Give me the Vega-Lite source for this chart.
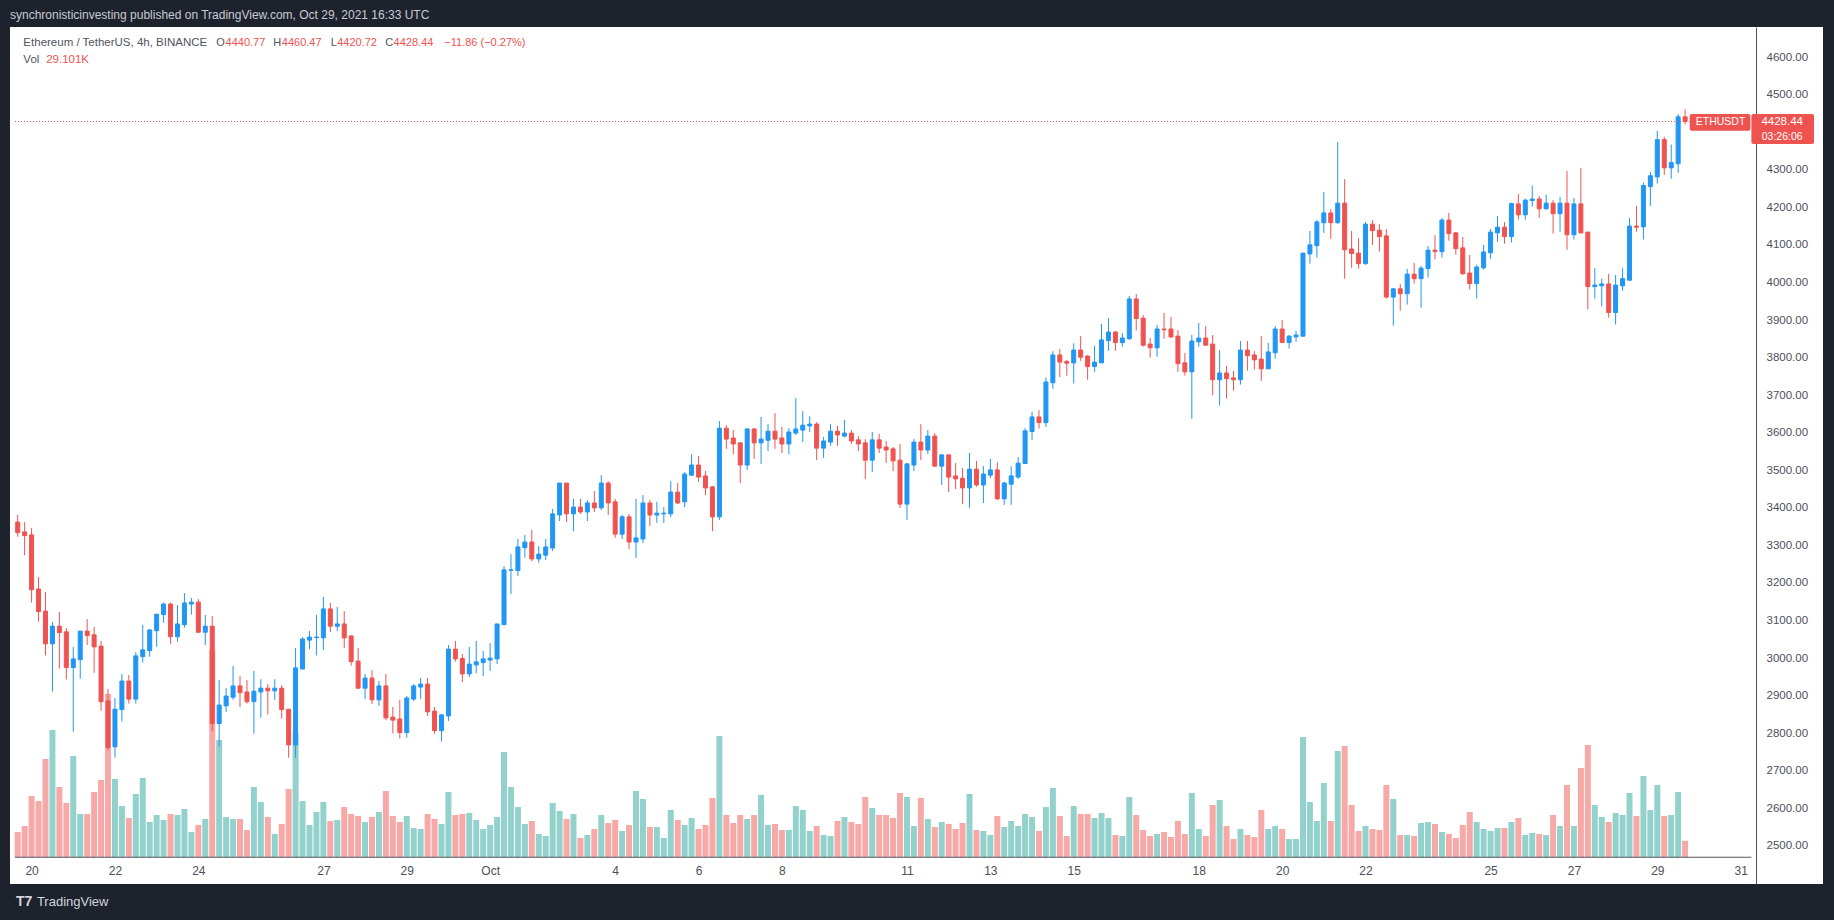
{
  "$schema": "https://vega.github.io/schema/vega-lite/v6.json",
  "description": "ETHUSDT 4h candles with volume, TradingView style.",
  "width": 1813,
  "height": 857,
  "autosize": {"type": "none"},
  "padding": {"left": 10, "top": 27, "right": 11, "bottom": 36},
  "background": "#1e222d",
  "config": {
    "view": {"fill": "#ffffff", "stroke": null},
    "font": "Liberation Sans"
  },
  "title": {
    "text": "synchronisticinvesting published on TradingView.com, Oct 29, 2021 16:33 UTC",
    "anchor": "start",
    "frame": "group",
    "color": "#c8cbd3",
    "font": "Liberation Sans",
    "fontSize": 12,
    "fontWeight": "normal",
    "baseline": "alphabetic",
    "offset": 8,
    "dy": 12
  },
  "data": {
    "values": [
      {"t":"2021-09-19T16:00Z","o":3362,"h":3381,"l":3323,"c":3334,"v":45.0},
      {"t":"2021-09-19T20:00Z","o":3336,"h":3362,"l":3274,"c":3326,"v":55.8},
      {"t":"2021-09-20T00:00Z","o":3328,"h":3346,"l":3148,"c":3182,"v":109.8},
      {"t":"2021-09-20T04:00Z","o":3184,"h":3216,"l":3097,"c":3124,"v":100.8},
      {"t":"2021-09-20T08:00Z","o":3125,"h":3176,"l":3007,"c":3038,"v":176.4},
      {"t":"2021-09-20T12:00Z","o":3038,"h":3096,"l":2911,"c":3085,"v":228.6},
      {"t":"2021-09-20T16:00Z","o":3085,"h":3123,"l":2972,"c":3068,"v":126.0},
      {"t":"2021-09-20T20:00Z","o":3070,"h":3080,"l":2943,"c":2975,"v":97.2},
      {"t":"2021-09-21T00:00Z","o":2975,"h":3030,"l":2804,"c":2998,"v":181.8},
      {"t":"2021-09-21T04:00Z","o":2996,"h":3072,"l":2945,"c":3072,"v":77.4},
      {"t":"2021-09-21T08:00Z","o":3072,"h":3104,"l":3035,"c":3060,"v":77.4},
      {"t":"2021-09-21T12:00Z","o":3062,"h":3083,"l":2961,"c":3030,"v":117.0},
      {"t":"2021-09-21T16:00Z","o":3032,"h":3046,"l":2860,"c":2884,"v":138.6},
      {"t":"2021-09-21T20:00Z","o":2886,"h":2918,"l":2755,"c":2762,"v":293.4},
      {"t":"2021-09-22T00:00Z","o":2764,"h":2894,"l":2735,"c":2864,"v":140.4},
      {"t":"2021-09-22T04:00Z","o":2863,"h":2958,"l":2831,"c":2939,"v":91.8},
      {"t":"2021-09-22T08:00Z","o":2939,"h":2955,"l":2879,"c":2891,"v":70.2},
      {"t":"2021-09-22T12:00Z","o":2891,"h":3016,"l":2879,"c":3006,"v":113.4},
      {"t":"2021-09-22T16:00Z","o":3004,"h":3088,"l":2988,"c":3022,"v":142.2},
      {"t":"2021-09-22T20:00Z","o":3020,"h":3077,"l":3004,"c":3075,"v":63.0},
      {"t":"2021-09-23T00:00Z","o":3073,"h":3117,"l":3030,"c":3117,"v":75.6},
      {"t":"2021-09-23T04:00Z","o":3116,"h":3148,"l":3094,"c":3144,"v":66.6},
      {"t":"2021-09-23T08:00Z","o":3144,"h":3148,"l":3038,"c":3057,"v":77.4},
      {"t":"2021-09-23T12:00Z","o":3057,"h":3141,"l":3044,"c":3091,"v":75.6},
      {"t":"2021-09-23T16:00Z","o":3089,"h":3173,"l":3081,"c":3147,"v":86.4},
      {"t":"2021-09-23T20:00Z","o":3144,"h":3160,"l":3116,"c":3149,"v":45.0},
      {"t":"2021-09-24T00:00Z","o":3149,"h":3157,"l":3067,"c":3069,"v":57.6},
      {"t":"2021-09-24T04:00Z","o":3069,"h":3115,"l":3035,"c":3085,"v":68.4},
      {"t":"2021-09-24T08:00Z","o":3085,"h":3112,"l":2805,"c":2826,"v":372.6},
      {"t":"2021-09-24T12:00Z","o":2826,"h":2942,"l":2764,"c":2875,"v":210.6},
      {"t":"2021-09-24T16:00Z","o":2873,"h":2920,"l":2857,"c":2899,"v":72.0},
      {"t":"2021-09-24T20:00Z","o":2896,"h":2979,"l":2889,"c":2926,"v":68.4},
      {"t":"2021-09-25T00:00Z","o":2926,"h":2952,"l":2870,"c":2908,"v":68.4},
      {"t":"2021-09-25T04:00Z","o":2910,"h":2942,"l":2879,"c":2884,"v":48.6},
      {"t":"2021-09-25T08:00Z","o":2884,"h":2966,"l":2799,"c":2912,"v":126.0},
      {"t":"2021-09-25T12:00Z","o":2910,"h":2944,"l":2841,"c":2920,"v":99.0},
      {"t":"2021-09-25T16:00Z","o":2920,"h":2931,"l":2850,"c":2913,"v":72.0},
      {"t":"2021-09-25T20:00Z","o":2913,"h":2944,"l":2889,"c":2920,"v":41.4},
      {"t":"2021-09-26T00:00Z","o":2920,"h":2928,"l":2839,"c":2863,"v":59.4},
      {"t":"2021-09-26T04:00Z","o":2864,"h":2864,"l":2735,"c":2769,"v":122.4},
      {"t":"2021-09-26T08:00Z","o":2769,"h":3027,"l":2735,"c":2974,"v":223.2},
      {"t":"2021-09-26T12:00Z","o":2971,"h":3056,"l":2971,"c":3051,"v":100.8},
      {"t":"2021-09-26T16:00Z","o":3048,"h":3072,"l":3024,"c":3056,"v":57.6},
      {"t":"2021-09-26T20:00Z","o":3055,"h":3115,"l":3007,"c":3056,"v":81.0},
      {"t":"2021-09-27T00:00Z","o":3054,"h":3163,"l":3022,"c":3131,"v":99.0},
      {"t":"2021-09-27T04:00Z","o":3131,"h":3147,"l":3069,"c":3085,"v":64.8},
      {"t":"2021-09-27T08:00Z","o":3085,"h":3136,"l":3072,"c":3091,"v":66.6},
      {"t":"2021-09-27T12:00Z","o":3091,"h":3125,"l":3027,"c":3054,"v":90.0},
      {"t":"2021-09-27T16:00Z","o":3059,"h":3061,"l":2980,"c":2991,"v":77.4},
      {"t":"2021-09-27T20:00Z","o":2992,"h":3027,"l":2918,"c":2920,"v":73.8},
      {"t":"2021-09-28T00:00Z","o":2920,"h":2958,"l":2891,"c":2947,"v":63.0},
      {"t":"2021-09-28T04:00Z","o":2947,"h":2968,"l":2878,"c":2889,"v":72.0},
      {"t":"2021-09-28T08:00Z","o":2889,"h":2939,"l":2873,"c":2926,"v":81.0},
      {"t":"2021-09-28T12:00Z","o":2926,"h":2958,"l":2835,"c":2841,"v":118.8},
      {"t":"2021-09-28T16:00Z","o":2843,"h":2870,"l":2799,"c":2835,"v":73.8},
      {"t":"2021-09-28T20:00Z","o":2838,"h":2889,"l":2786,"c":2802,"v":63.0},
      {"t":"2021-09-29T00:00Z","o":2802,"h":2899,"l":2788,"c":2894,"v":73.8},
      {"t":"2021-09-29T04:00Z","o":2891,"h":2931,"l":2886,"c":2926,"v":52.2},
      {"t":"2021-09-29T08:00Z","o":2923,"h":2947,"l":2891,"c":2931,"v":50.4},
      {"t":"2021-09-29T12:00Z","o":2931,"h":2947,"l":2846,"c":2857,"v":77.4},
      {"t":"2021-09-29T16:00Z","o":2859,"h":2870,"l":2799,"c":2807,"v":68.4},
      {"t":"2021-09-29T20:00Z","o":2807,"h":2851,"l":2778,"c":2849,"v":59.4},
      {"t":"2021-09-30T00:00Z","o":2846,"h":3035,"l":2833,"c":3024,"v":117.0},
      {"t":"2021-09-30T04:00Z","o":3024,"h":3046,"l":2991,"c":2998,"v":75.6},
      {"t":"2021-09-30T08:00Z","o":2999,"h":3011,"l":2936,"c":2958,"v":77.4},
      {"t":"2021-09-30T12:00Z","o":2958,"h":3030,"l":2950,"c":2984,"v":79.2},
      {"t":"2021-09-30T16:00Z","o":2982,"h":3046,"l":2960,"c":2990,"v":66.6},
      {"t":"2021-09-30T20:00Z","o":2988,"h":3019,"l":2952,"c":2998,"v":50.4},
      {"t":"2021-10-01T00:00Z","o":2995,"h":3040,"l":2966,"c":3000,"v":57.6},
      {"t":"2021-10-01T04:00Z","o":2998,"h":3091,"l":2984,"c":3091,"v":72.0},
      {"t":"2021-10-01T08:00Z","o":3089,"h":3245,"l":3089,"c":3235,"v":189.0},
      {"t":"2021-10-01T12:00Z","o":3234,"h":3277,"l":3171,"c":3235,"v":126.0},
      {"t":"2021-10-01T16:00Z","o":3233,"h":3317,"l":3219,"c":3296,"v":90.0},
      {"t":"2021-10-01T20:00Z","o":3294,"h":3328,"l":3267,"c":3309,"v":59.4},
      {"t":"2021-10-02T00:00Z","o":3309,"h":3341,"l":3258,"c":3264,"v":64.8},
      {"t":"2021-10-02T04:00Z","o":3264,"h":3298,"l":3254,"c":3277,"v":41.4},
      {"t":"2021-10-02T08:00Z","o":3274,"h":3317,"l":3261,"c":3296,"v":37.8},
      {"t":"2021-10-02T12:00Z","o":3293,"h":3397,"l":3285,"c":3384,"v":97.2},
      {"t":"2021-10-02T16:00Z","o":3381,"h":3466,"l":3365,"c":3466,"v":82.8},
      {"t":"2021-10-02T20:00Z","o":3466,"h":3466,"l":3362,"c":3384,"v":68.4},
      {"t":"2021-10-03T00:00Z","o":3384,"h":3424,"l":3338,"c":3402,"v":77.4},
      {"t":"2021-10-03T04:00Z","o":3402,"h":3424,"l":3384,"c":3389,"v":34.2},
      {"t":"2021-10-03T08:00Z","o":3389,"h":3421,"l":3365,"c":3413,"v":39.6},
      {"t":"2021-10-03T12:00Z","o":3413,"h":3445,"l":3389,"c":3400,"v":50.4},
      {"t":"2021-10-03T16:00Z","o":3400,"h":3487,"l":3394,"c":3466,"v":75.6},
      {"t":"2021-10-03T20:00Z","o":3466,"h":3471,"l":3381,"c":3413,"v":61.2},
      {"t":"2021-10-04T00:00Z","o":3416,"h":3424,"l":3320,"c":3330,"v":66.6},
      {"t":"2021-10-04T04:00Z","o":3330,"h":3381,"l":3317,"c":3376,"v":46.8},
      {"t":"2021-10-04T08:00Z","o":3376,"h":3384,"l":3290,"c":3309,"v":57.6},
      {"t":"2021-10-04T12:00Z","o":3309,"h":3424,"l":3267,"c":3320,"v":118.8},
      {"t":"2021-10-04T16:00Z","o":3317,"h":3434,"l":3306,"c":3413,"v":104.4},
      {"t":"2021-10-04T20:00Z","o":3413,"h":3421,"l":3352,"c":3381,"v":54.0},
      {"t":"2021-10-05T00:00Z","o":3381,"h":3416,"l":3360,"c":3386,"v":54.0},
      {"t":"2021-10-05T04:00Z","o":3384,"h":3402,"l":3360,"c":3386,"v":34.2},
      {"t":"2021-10-05T08:00Z","o":3384,"h":3471,"l":3376,"c":3442,"v":84.6},
      {"t":"2021-10-05T12:00Z","o":3442,"h":3466,"l":3410,"c":3413,"v":66.6},
      {"t":"2021-10-05T16:00Z","o":3416,"h":3495,"l":3402,"c":3490,"v":57.6},
      {"t":"2021-10-05T20:00Z","o":3487,"h":3543,"l":3485,"c":3514,"v":70.2},
      {"t":"2021-10-06T00:00Z","o":3514,"h":3538,"l":3469,"c":3482,"v":50.4},
      {"t":"2021-10-06T04:00Z","o":3485,"h":3498,"l":3434,"c":3453,"v":57.6},
      {"t":"2021-10-06T08:00Z","o":3456,"h":3458,"l":3338,"c":3376,"v":106.2},
      {"t":"2021-10-06T12:00Z","o":3376,"h":3631,"l":3368,"c":3612,"v":217.8},
      {"t":"2021-10-06T16:00Z","o":3612,"h":3620,"l":3557,"c":3583,"v":75.6},
      {"t":"2021-10-06T20:00Z","o":3586,"h":3607,"l":3543,"c":3570,"v":61.2},
      {"t":"2021-10-07T00:00Z","o":3573,"h":3573,"l":3466,"c":3514,"v":75.6},
      {"t":"2021-10-07T04:00Z","o":3514,"h":3612,"l":3501,"c":3610,"v":68.4},
      {"t":"2021-10-07T08:00Z","o":3610,"h":3612,"l":3530,"c":3573,"v":75.6},
      {"t":"2021-10-07T12:00Z","o":3573,"h":3642,"l":3517,"c":3583,"v":111.6},
      {"t":"2021-10-07T16:00Z","o":3580,"h":3623,"l":3551,"c":3604,"v":57.6},
      {"t":"2021-10-07T20:00Z","o":3604,"h":3652,"l":3557,"c":3583,"v":59.4},
      {"t":"2021-10-08T00:00Z","o":3586,"h":3615,"l":3546,"c":3570,"v":48.6},
      {"t":"2021-10-08T04:00Z","o":3570,"h":3612,"l":3543,"c":3602,"v":48.6},
      {"t":"2021-10-08T08:00Z","o":3599,"h":3692,"l":3594,"c":3610,"v":91.8},
      {"t":"2021-10-08T12:00Z","o":3607,"h":3658,"l":3575,"c":3620,"v":84.6},
      {"t":"2021-10-08T16:00Z","o":3618,"h":3644,"l":3602,"c":3623,"v":46.8},
      {"t":"2021-10-08T20:00Z","o":3623,"h":3628,"l":3527,"c":3559,"v":55.8},
      {"t":"2021-10-09T00:00Z","o":3559,"h":3589,"l":3533,"c":3578,"v":39.6},
      {"t":"2021-10-09T04:00Z","o":3575,"h":3623,"l":3565,"c":3604,"v":37.8},
      {"t":"2021-10-09T08:00Z","o":3604,"h":3618,"l":3565,"c":3594,"v":64.8},
      {"t":"2021-10-09T12:00Z","o":3591,"h":3634,"l":3588,"c":3599,"v":72.0},
      {"t":"2021-10-09T16:00Z","o":3599,"h":3607,"l":3570,"c":3578,"v":63.0},
      {"t":"2021-10-09T20:00Z","o":3581,"h":3591,"l":3551,"c":3570,"v":59.4},
      {"t":"2021-10-10T00:00Z","o":3573,"h":3583,"l":3477,"c":3527,"v":108.0},
      {"t":"2021-10-10T04:00Z","o":3527,"h":3602,"l":3495,"c":3581,"v":88.2},
      {"t":"2021-10-10T08:00Z","o":3581,"h":3597,"l":3546,"c":3559,"v":75.6},
      {"t":"2021-10-10T12:00Z","o":3562,"h":3578,"l":3519,"c":3554,"v":75.6},
      {"t":"2021-10-10T16:00Z","o":3557,"h":3562,"l":3498,"c":3525,"v":70.2},
      {"t":"2021-10-10T20:00Z","o":3527,"h":3570,"l":3400,"c":3410,"v":115.2},
      {"t":"2021-10-11T00:00Z","o":3410,"h":3519,"l":3368,"c":3517,"v":108.0},
      {"t":"2021-10-11T04:00Z","o":3514,"h":3583,"l":3498,"c":3575,"v":55.8},
      {"t":"2021-10-11T08:00Z","o":3575,"h":3623,"l":3527,"c":3554,"v":106.2},
      {"t":"2021-10-11T12:00Z","o":3554,"h":3607,"l":3543,"c":3591,"v":68.4},
      {"t":"2021-10-11T16:00Z","o":3591,"h":3599,"l":3509,"c":3511,"v":54.0},
      {"t":"2021-10-11T20:00Z","o":3511,"h":3543,"l":3461,"c":3541,"v":63.0},
      {"t":"2021-10-12T00:00Z","o":3541,"h":3541,"l":3442,"c":3482,"v":59.4},
      {"t":"2021-10-12T04:00Z","o":3485,"h":3519,"l":3450,"c":3477,"v":50.4},
      {"t":"2021-10-12T08:00Z","o":3479,"h":3506,"l":3410,"c":3453,"v":61.2},
      {"t":"2021-10-12T12:00Z","o":3453,"h":3546,"l":3400,"c":3503,"v":113.4},
      {"t":"2021-10-12T16:00Z","o":3503,"h":3525,"l":3456,"c":3461,"v":48.6},
      {"t":"2021-10-12T20:00Z","o":3461,"h":3511,"l":3413,"c":3490,"v":46.8},
      {"t":"2021-10-13T00:00Z","o":3487,"h":3530,"l":3479,"c":3501,"v":39.6},
      {"t":"2021-10-13T04:00Z","o":3501,"h":3522,"l":3421,"c":3424,"v":73.8},
      {"t":"2021-10-13T08:00Z","o":3424,"h":3469,"l":3408,"c":3466,"v":54.0},
      {"t":"2021-10-13T12:00Z","o":3463,"h":3511,"l":3408,"c":3485,"v":64.8},
      {"t":"2021-10-13T16:00Z","o":3482,"h":3535,"l":3477,"c":3519,"v":55.8},
      {"t":"2021-10-13T20:00Z","o":3518,"h":3612,"l":3518,"c":3605,"v":77.4},
      {"t":"2021-10-14T00:00Z","o":3603,"h":3656,"l":3581,"c":3642,"v":72.0},
      {"t":"2021-10-14T04:00Z","o":3642,"h":3660,"l":3611,"c":3627,"v":46.8},
      {"t":"2021-10-14T08:00Z","o":3627,"h":3747,"l":3615,"c":3735,"v":90.0},
      {"t":"2021-10-14T12:00Z","o":3733,"h":3817,"l":3717,"c":3807,"v":124.2},
      {"t":"2021-10-14T16:00Z","o":3807,"h":3823,"l":3748,"c":3788,"v":73.8},
      {"t":"2021-10-14T20:00Z","o":3790,"h":3793,"l":3752,"c":3785,"v":37.8},
      {"t":"2021-10-15T00:00Z","o":3786,"h":3838,"l":3731,"c":3820,"v":91.8},
      {"t":"2021-10-15T04:00Z","o":3820,"h":3857,"l":3791,"c":3801,"v":77.4},
      {"t":"2021-10-15T08:00Z","o":3804,"h":3807,"l":3741,"c":3776,"v":77.4},
      {"t":"2021-10-15T12:00Z","o":3776,"h":3831,"l":3762,"c":3788,"v":70.2},
      {"t":"2021-10-15T16:00Z","o":3786,"h":3889,"l":3786,"c":3847,"v":79.2},
      {"t":"2021-10-15T20:00Z","o":3845,"h":3905,"l":3818,"c":3868,"v":70.2},
      {"t":"2021-10-16T00:00Z","o":3868,"h":3871,"l":3818,"c":3840,"v":39.6},
      {"t":"2021-10-16T04:00Z","o":3840,"h":3865,"l":3829,"c":3852,"v":37.8},
      {"t":"2021-10-16T08:00Z","o":3850,"h":3964,"l":3847,"c":3956,"v":108.0},
      {"t":"2021-10-16T12:00Z","o":3956,"h":3969,"l":3872,"c":3904,"v":75.6},
      {"t":"2021-10-16T16:00Z","o":3905,"h":3913,"l":3829,"c":3833,"v":48.6},
      {"t":"2021-10-16T20:00Z","o":3836,"h":3852,"l":3800,"c":3826,"v":37.8},
      {"t":"2021-10-17T00:00Z","o":3826,"h":3887,"l":3802,"c":3876,"v":41.4},
      {"t":"2021-10-17T04:00Z","o":3876,"h":3919,"l":3850,"c":3874,"v":45.0},
      {"t":"2021-10-17T08:00Z","o":3876,"h":3908,"l":3852,"c":3855,"v":36.0},
      {"t":"2021-10-17T12:00Z","o":3857,"h":3873,"l":3762,"c":3784,"v":64.8},
      {"t":"2021-10-17T16:00Z","o":3786,"h":3812,"l":3752,"c":3762,"v":41.4},
      {"t":"2021-10-17T20:00Z","o":3762,"h":3860,"l":3637,"c":3844,"v":115.2},
      {"t":"2021-10-18T00:00Z","o":3842,"h":3892,"l":3829,"c":3852,"v":50.4},
      {"t":"2021-10-18T04:00Z","o":3852,"h":3884,"l":3832,"c":3833,"v":37.8},
      {"t":"2021-10-18T08:00Z","o":3836,"h":3860,"l":3700,"c":3741,"v":93.6},
      {"t":"2021-10-18T12:00Z","o":3741,"h":3820,"l":3672,"c":3759,"v":102.6},
      {"t":"2021-10-18T16:00Z","o":3759,"h":3778,"l":3691,"c":3744,"v":55.8},
      {"t":"2021-10-18T20:00Z","o":3746,"h":3764,"l":3712,"c":3741,"v":32.4},
      {"t":"2021-10-19T00:00Z","o":3741,"h":3844,"l":3728,"c":3820,"v":50.4},
      {"t":"2021-10-19T04:00Z","o":3820,"h":3844,"l":3765,"c":3805,"v":39.6},
      {"t":"2021-10-19T08:00Z","o":3807,"h":3817,"l":3768,"c":3794,"v":36.0},
      {"t":"2021-10-19T12:00Z","o":3796,"h":3857,"l":3738,"c":3770,"v":84.6},
      {"t":"2021-10-19T16:00Z","o":3770,"h":3839,"l":3770,"c":3815,"v":50.4},
      {"t":"2021-10-19T20:00Z","o":3813,"h":3884,"l":3797,"c":3876,"v":55.8},
      {"t":"2021-10-20T00:00Z","o":3876,"h":3900,"l":3840,"c":3840,"v":50.4},
      {"t":"2021-10-20T04:00Z","o":3840,"h":3860,"l":3824,"c":3857,"v":32.4},
      {"t":"2021-10-20T08:00Z","o":3855,"h":3871,"l":3842,"c":3860,"v":32.4},
      {"t":"2021-10-20T12:00Z","o":3857,"h":4079,"l":3856,"c":4078,"v":216.0},
      {"t":"2021-10-20T16:00Z","o":4076,"h":4137,"l":4050,"c":4100,"v":99.0},
      {"t":"2021-10-20T20:00Z","o":4098,"h":4166,"l":4066,"c":4161,"v":64.8},
      {"t":"2021-10-21T00:00Z","o":4159,"h":4241,"l":4132,"c":4185,"v":133.2},
      {"t":"2021-10-21T04:00Z","o":4185,"h":4195,"l":4116,"c":4159,"v":64.8},
      {"t":"2021-10-21T08:00Z","o":4159,"h":4374,"l":4156,"c":4211,"v":190.8},
      {"t":"2021-10-21T12:00Z","o":4211,"h":4275,"l":4010,"c":4087,"v":199.8},
      {"t":"2021-10-21T16:00Z","o":4089,"h":4137,"l":4039,"c":4077,"v":93.6},
      {"t":"2021-10-21T20:00Z","o":4078,"h":4118,"l":4037,"c":4050,"v":46.8},
      {"t":"2021-10-22T00:00Z","o":4050,"h":4161,"l":4047,"c":4155,"v":55.8},
      {"t":"2021-10-22T04:00Z","o":4155,"h":4166,"l":4100,"c":4138,"v":50.4},
      {"t":"2021-10-22T08:00Z","o":4139,"h":4155,"l":4082,"c":4122,"v":48.6},
      {"t":"2021-10-22T12:00Z","o":4124,"h":4142,"l":3957,"c":3961,"v":129.6},
      {"t":"2021-10-22T16:00Z","o":3961,"h":3985,"l":3885,"c":3983,"v":104.4},
      {"t":"2021-10-22T20:00Z","o":3983,"h":3996,"l":3925,"c":3970,"v":39.6},
      {"t":"2021-10-23T00:00Z","o":3970,"h":4036,"l":3941,"c":4022,"v":39.6},
      {"t":"2021-10-23T04:00Z","o":4022,"h":4052,"l":3997,"c":4010,"v":37.8},
      {"t":"2021-10-23T08:00Z","o":4010,"h":4044,"l":3933,"c":4038,"v":61.2},
      {"t":"2021-10-23T12:00Z","o":4037,"h":4097,"l":4013,"c":4086,"v":63.0},
      {"t":"2021-10-23T16:00Z","o":4086,"h":4126,"l":4061,"c":4082,"v":59.4},
      {"t":"2021-10-23T20:00Z","o":4082,"h":4171,"l":4066,"c":4166,"v":45.0},
      {"t":"2021-10-24T00:00Z","o":4166,"h":4185,"l":4111,"c":4130,"v":41.4},
      {"t":"2021-10-24T04:00Z","o":4132,"h":4134,"l":4074,"c":4090,"v":34.2},
      {"t":"2021-10-24T08:00Z","o":4092,"h":4121,"l":4021,"c":4023,"v":57.6},
      {"t":"2021-10-24T12:00Z","o":4025,"h":4073,"l":3981,"c":3997,"v":81.0},
      {"t":"2021-10-24T16:00Z","o":3997,"h":4047,"l":3957,"c":4041,"v":63.0},
      {"t":"2021-10-24T20:00Z","o":4039,"h":4100,"l":4034,"c":4081,"v":50.4},
      {"t":"2021-10-25T00:00Z","o":4079,"h":4142,"l":4063,"c":4134,"v":46.8},
      {"t":"2021-10-25T04:00Z","o":4132,"h":4177,"l":4108,"c":4147,"v":52.2},
      {"t":"2021-10-25T08:00Z","o":4147,"h":4161,"l":4103,"c":4122,"v":52.2},
      {"t":"2021-10-25T12:00Z","o":4122,"h":4212,"l":4106,"c":4210,"v":63.0},
      {"t":"2021-10-25T16:00Z","o":4209,"h":4235,"l":4167,"c":4180,"v":70.2},
      {"t":"2021-10-25T20:00Z","o":4180,"h":4223,"l":4167,"c":4219,"v":39.6},
      {"t":"2021-10-26T00:00Z","o":4218,"h":4258,"l":4202,"c":4222,"v":43.2},
      {"t":"2021-10-26T04:00Z","o":4222,"h":4230,"l":4172,"c":4196,"v":41.4},
      {"t":"2021-10-26T08:00Z","o":4196,"h":4233,"l":4194,"c":4211,"v":39.6},
      {"t":"2021-10-26T12:00Z","o":4211,"h":4219,"l":4130,"c":4183,"v":75.6},
      {"t":"2021-10-26T16:00Z","o":4183,"h":4227,"l":4135,"c":4211,"v":55.8},
      {"t":"2021-10-26T20:00Z","o":4211,"h":4297,"l":4087,"c":4127,"v":129.6},
      {"t":"2021-10-27T00:00Z","o":4127,"h":4225,"l":4114,"c":4209,"v":55.8},
      {"t":"2021-10-27T04:00Z","o":4209,"h":4305,"l":4130,"c":4132,"v":160.2},
      {"t":"2021-10-27T08:00Z","o":4134,"h":4134,"l":3928,"c":3989,"v":201.6},
      {"t":"2021-10-27T12:00Z","o":3989,"h":4038,"l":3957,"c":3993,"v":93.6},
      {"t":"2021-10-27T16:00Z","o":3991,"h":4010,"l":3936,"c":3996,"v":72.0},
      {"t":"2021-10-27T20:00Z","o":3996,"h":4023,"l":3906,"c":3920,"v":63.0},
      {"t":"2021-10-28T00:00Z","o":3920,"h":4020,"l":3888,"c":3993,"v":79.2},
      {"t":"2021-10-28T04:00Z","o":3991,"h":4038,"l":3978,"c":4010,"v":75.6},
      {"t":"2021-10-28T08:00Z","o":4006,"h":4171,"l":4005,"c":4150,"v":115.2},
      {"t":"2021-10-28T12:00Z","o":4150,"h":4204,"l":4135,"c":4147,"v":73.8},
      {"t":"2021-10-28T16:00Z","o":4148,"h":4266,"l":4114,"c":4258,"v":145.8},
      {"t":"2021-10-28T20:00Z","o":4255,"h":4294,"l":4204,"c":4284,"v":84.6},
      {"t":"2021-10-29T00:00Z","o":4281,"h":4404,"l":4263,"c":4380,"v":129.6},
      {"t":"2021-10-29T04:00Z","o":4380,"h":4388,"l":4286,"c":4305,"v":73.8},
      {"t":"2021-10-29T08:00Z","o":4305,"h":4367,"l":4276,"c":4319,"v":75.6},
      {"t":"2021-10-29T12:00Z","o":4316,"h":4448,"l":4292,"c":4440.77,"v":117.0},
      {"t":"2021-10-29T16:00Z","o":4440.77,"h":4460.47,"l":4420.72,"c":4428.44,"v":29.101}
    ]
  },
  "layer": [
    {
      "mark": {"type": "bar", "size": 6},
      "encoding": {
        "x": {
          "field": "t",
          "type": "temporal",
          "scale": {
            "type": "utc",
            "domain": [
              {"year": 2021, "month": 9, "date": 19, "hours": 14, "minutes": 27, "utc": true},
              {"year": 2021, "month": 11, "date": 1, "hours": 20, "minutes": 31, "utc": true}
            ]
          },
          "axis": {
            "orient": "bottom",
            "offset": -27,
            "title": null,
            "domain": false,
            "ticks": false,
            "grid": false,
            "labelPadding": 8,
            "labelColor": "#4c4f5a",
            "labelFont": "Liberation Sans",
            "labelFontSize": 12,
            "labelFlush": false,
            "labelOverlap": false,
            "values": [
              {"year": 2021, "month": 9, "date": 20, "utc": true},
              {"year": 2021, "month": 9, "date": 22, "utc": true},
              {"year": 2021, "month": 9, "date": 24, "utc": true},
              {"year": 2021, "month": 9, "date": 27, "utc": true},
              {"year": 2021, "month": 9, "date": 29, "utc": true},
              {"year": 2021, "month": 10, "date": 1, "utc": true},
              {"year": 2021, "month": 10, "date": 4, "utc": true},
              {"year": 2021, "month": 10, "date": 6, "utc": true},
              {"year": 2021, "month": 10, "date": 8, "utc": true},
              {"year": 2021, "month": 10, "date": 11, "utc": true},
              {"year": 2021, "month": 10, "date": 13, "utc": true},
              {"year": 2021, "month": 10, "date": 15, "utc": true},
              {"year": 2021, "month": 10, "date": 18, "utc": true},
              {"year": 2021, "month": 10, "date": 20, "utc": true},
              {"year": 2021, "month": 10, "date": 22, "utc": true},
              {"year": 2021, "month": 10, "date": 25, "utc": true},
              {"year": 2021, "month": 10, "date": 27, "utc": true},
              {"year": 2021, "month": 10, "date": 29, "utc": true},
              {"year": 2021, "month": 10, "date": 31, "utc": true}
            ],
            "labelExpr": "utcdate(datum.value) == 1 ? 'Oct' : utcFormat(datum.value, '%-d')"
          }
        },
        "y": {
          "field": "v",
          "type": "quantitative",
          "scale": {"domain": [-48.6, 1494], "nice": false, "zero": false},
          "axis": null
        },
        "y2": {"datum": 0},
        "color": {
          "condition": {"test": "datum.c >= datum.o", "value": "#93d2cc"},
          "value": "#f7a9a7"
        }
      }
    },
    {
      "layer": [
        {
          "mark": {"type": "rule", "strokeWidth": 1},
          "encoding": {
            "x": {"field": "t", "type": "temporal"},
            "y": {
              "field": "l",
              "type": "quantitative",
              "scale": {"domain": [2398.8, 4679.9], "nice": false, "zero": false},
              "axis": {
                "orient": "right",
                "offset": -67,
                "title": null,
                "values": [2500, 2600, 2700, 2800, 2900, 3000, 3100, 3200, 3300, 3400, 3500, 3600, 3700, 3800, 3900, 4000, 4100, 4200, 4300, 4500, 4600],
                "format": ".2f",
                "ticks": false,
                "grid": false,
                "domain": true,
                "domainColor": "#50535e",
                "domainWidth": 1,
                "labelAlign": "left",
                "labelBaseline": "middle",
                "labelPadding": 10,
                "labelColor": "#4c4f5a",
                "labelFont": "Liberation Sans",
                "labelFontSize": 11.5,
                "labelOverlap": false,
                "labelFlush": false
              }
            },
            "y2": {"field": "h"},
            "color": {
              "condition": {"test": "datum.c >= datum.o", "value": "#2196f3"},
              "value": "#ef5350"
            }
          }
        },
        {
          "mark": {"type": "bar", "size": 4, "strokeWidth": 1},
          "encoding": {
            "x": {"field": "t", "type": "temporal"},
            "y": {"field": "o", "type": "quantitative"},
            "y2": {"field": "c"},
            "color": {
              "condition": {"test": "datum.c >= datum.o", "value": "#2196f3"},
              "value": "#ef5350"
            },
            "stroke": {
              "condition": {"test": "datum.c >= datum.o", "value": "#2196f3"},
              "value": "#ef5350"
            }
          }
        },
        {
          "data": {"values": [{}]},
          "mark": {"type": "rule", "color": "#50535e", "strokeWidth": 1},
          "encoding": {
            "x": {"datum": {"year": 2021, "month": 9, "date": 19, "hours": 14, "minutes": 27, "utc": true}},
            "x2": {"datum": {"year": 2021, "month": 10, "date": 31, "hours": 6, "minutes": 10, "utc": true}},
            "y": {"datum": 2470.0}
          }
        },
        {
          "data": {"values": [{}]},
          "mark": {"type": "rule", "color": "#ef5350", "strokeWidth": 1, "strokeDash": [1, 2]},
          "encoding": {
            "x": {"datum": {"year": 2021, "month": 9, "date": 19, "hours": 14, "minutes": 27, "utc": true}},
            "x2": {"datum": {"year": 2021, "month": 10, "date": 29, "hours": 18, "minutes": 40, "utc": true}},
            "y": {"datum": 4428.44}
          }
        },
        {
          "data": {"values": [{}]},
          "mark": {"type": "rect", "color": "#ef5350", "cornerRadius": 2},
          "encoding": {
            "x": {"datum": {"year": 2021, "month": 10, "date": 29, "hours": 18, "minutes": 40, "utc": true}},
            "x2": {"datum": {"year": 2021, "month": 10, "date": 31, "hours": 5, "minutes": 35, "utc": true}},
            "y": {"datum": 4448.2},
            "y2": {"datum": 4403.8}
          }
        },
        {
          "data": {"values": [{}]},
          "mark": {"type": "text", "text": "ETHUSDT", "color": "#ffffff", "font": "Liberation Sans", "fontSize": 10.5, "align": "center", "baseline": "middle"},
          "encoding": {
            "x": {"datum": {"year": 2021, "month": 10, "date": 30, "hours": 12, "minutes": 25, "utc": true}},
            "y": {"datum": 4427.0}
          }
        },
        {
          "data": {"values": [{}]},
          "mark": {"type": "rect", "color": "#ef5350", "cornerRadius": 2},
          "encoding": {
            "x": {"datum": {"year": 2021, "month": 10, "date": 31, "hours": 6, "minutes": 10, "utc": true}},
            "x2": {"datum": {"year": 2021, "month": 11, "date": 1, "hours": 18, "minutes": 14, "utc": true}},
            "y": {"datum": 4448.2},
            "y2": {"datum": 4368.4}
          }
        },
        {
          "data": {"values": [{}]},
          "mark": {"type": "text", "text": "4428.44", "color": "#ffffff", "font": "Liberation Sans", "fontSize": 11.5, "align": "center", "baseline": "middle"},
          "encoding": {
            "x": {"datum": {"year": 2021, "month": 10, "date": 31, "hours": 23, "minutes": 54, "utc": true}},
            "y": {"datum": 4428.3}
          }
        },
        {
          "data": {"values": [{}]},
          "mark": {"type": "text", "text": "03:26:06", "color": "#ffffff", "font": "Liberation Sans", "fontSize": 10.5, "align": "center", "baseline": "middle"},
          "encoding": {
            "x": {"datum": {"year": 2021, "month": 10, "date": 31, "hours": 23, "minutes": 54, "utc": true}},
            "y": {"datum": 4388.3}
          }
        },
        {
          "data": {"values": [{}]},
          "mark": {"type": "text", "text": "Ethereum / TetherUS, 4h, BINANCE", "color": "#50535e", "font": "Liberation Sans", "fontSize": 11.5, "align": "left", "baseline": "middle"},
          "encoding": {
            "x": {"datum": {"year": 2021, "month": 9, "date": 19, "hours": 19, "minutes": 16, "utc": true}},
            "y": {"datum": 4638.1}
          }
        },
        {
          "data": {"values": [{}]},
          "mark": {"type": "text", "text": "O", "color": "#50535e", "font": "Liberation Sans", "fontSize": 11, "align": "left", "baseline": "middle"},
          "encoding": {
            "x": {"datum": {"year": 2021, "month": 9, "date": 24, "hours": 10, "minutes": 17, "utc": true}},
            "y": {"datum": 4638.1}
          }
        },
        {
          "data": {"values": [{}]},
          "mark": {"type": "text", "text": "4440.77", "color": "#ef5350", "font": "Liberation Sans", "fontSize": 11, "align": "left", "baseline": "middle"},
          "encoding": {
            "x": {"datum": {"year": 2021, "month": 9, "date": 24, "hours": 15, "minutes": 40, "utc": true}},
            "y": {"datum": 4638.1}
          }
        },
        {
          "data": {"values": [{}]},
          "mark": {"type": "text", "text": "H", "color": "#50535e", "font": "Liberation Sans", "fontSize": 11, "align": "left", "baseline": "middle"},
          "encoding": {
            "x": {"datum": {"year": 2021, "month": 9, "date": 25, "hours": 19, "minutes": 9, "utc": true}},
            "y": {"datum": 4638.1}
          }
        },
        {
          "data": {"values": [{}]},
          "mark": {"type": "text", "text": "4460.47", "color": "#ef5350", "font": "Liberation Sans", "fontSize": 11, "align": "left", "baseline": "middle"},
          "encoding": {
            "x": {"datum": {"year": 2021, "month": 9, "date": 26, "hours": 0, "minutes": 4, "utc": true}},
            "y": {"datum": 4638.1}
          }
        },
        {
          "data": {"values": [{}]},
          "mark": {"type": "text", "text": "L", "color": "#50535e", "font": "Liberation Sans", "fontSize": 11, "align": "left", "baseline": "middle"},
          "encoding": {
            "x": {"datum": {"year": 2021, "month": 9, "date": 27, "hours": 4, "minutes": 15, "utc": true}},
            "y": {"datum": 4638.1}
          }
        },
        {
          "data": {"values": [{}]},
          "mark": {"type": "text", "text": "4420.72", "color": "#ef5350", "font": "Liberation Sans", "fontSize": 11, "align": "left", "baseline": "middle"},
          "encoding": {
            "x": {"datum": {"year": 2021, "month": 9, "date": 27, "hours": 7, "minutes": 58, "utc": true}},
            "y": {"datum": 4638.1}
          }
        },
        {
          "data": {"values": [{}]},
          "mark": {"type": "text", "text": "C", "color": "#50535e", "font": "Liberation Sans", "fontSize": 11, "align": "left", "baseline": "middle"},
          "encoding": {
            "x": {"datum": {"year": 2021, "month": 9, "date": 28, "hours": 11, "minutes": 37, "utc": true}},
            "y": {"datum": 4638.1}
          }
        },
        {
          "data": {"values": [{}]},
          "mark": {"type": "text", "text": "4428.44", "color": "#ef5350", "font": "Liberation Sans", "fontSize": 11, "align": "left", "baseline": "middle"},
          "encoding": {
            "x": {"datum": {"year": 2021, "month": 9, "date": 28, "hours": 16, "minutes": 26, "utc": true}},
            "y": {"datum": 4638.1}
          }
        },
        {
          "data": {"values": [{}]},
          "mark": {"type": "text", "text": "−11.86 (−0.27%)", "color": "#ef5350", "font": "Liberation Sans", "fontSize": 11, "align": "left", "baseline": "middle"},
          "encoding": {
            "x": {"datum": {"year": 2021, "month": 9, "date": 29, "hours": 21, "minutes": 38, "utc": true}},
            "y": {"datum": 4638.1}
          }
        },
        {
          "data": {"values": [{}]},
          "mark": {"type": "text", "text": "Vol", "color": "#50535e", "font": "Liberation Sans", "fontSize": 11.5, "align": "left", "baseline": "middle"},
          "encoding": {
            "x": {"datum": {"year": 2021, "month": 9, "date": 19, "hours": 19, "minutes": 16, "utc": true}},
            "y": {"datum": 4592.0}
          }
        },
        {
          "data": {"values": [{}]},
          "mark": {"type": "text", "text": "29.101K", "color": "#ef5350", "font": "Liberation Sans", "fontSize": 11.5, "align": "left", "baseline": "middle"},
          "encoding": {
            "x": {"datum": {"year": 2021, "month": 9, "date": 20, "hours": 8, "minutes": 23, "utc": true}},
            "y": {"datum": 4592.0}
          }
        },
        {
          "data": {"values": [{}]},
          "mark": {"type": "text", "text": "T7", "color": "#d1d4dc", "font": "Liberation Sans", "fontSize": 14, "fontWeight": "bold", "align": "left", "baseline": "middle"},
          "encoding": {
            "x": {"datum": {"year": 2021, "month": 9, "date": 19, "hours": 15, "minutes": 2, "utc": true}},
            "y": {"datum": 2350.3}
          }
        },
        {
          "data": {"values": [{}]},
          "mark": {"type": "text", "text": "TradingView", "color": "#d1d4dc", "font": "Liberation Sans", "fontSize": 13, "align": "left", "baseline": "middle"},
          "encoding": {
            "x": {"datum": {"year": 2021, "month": 9, "date": 20, "hours": 3, "minutes": 3, "utc": true}},
            "y": {"datum": 2350.3}
          }
        }
      ]
    }
  ],
  "resolve": {"scale": {"y": "independent"}}
}
